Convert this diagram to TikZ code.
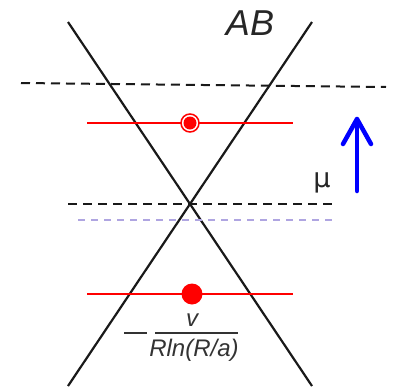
\documentclass[tikz,border=0pt]{standalone}
\usepackage{fontspec}
\setmainfont{Liberation Sans}
\newfontfamily\mufont{DejaVu Sans}
\usetikzlibrary{arrows.meta,calc}
\definecolor{lav}{RGB}{175,165,225}
\tikzset{
  cone/.style={line width=2.2pt, black!90},
  level/.style={line width=2pt, red},
  fermi/.style={line width=2pt, black!90, dash pattern=on 9pt off 6pt},
  lavdash/.style={line width=1.6pt, lav, dash pattern=on 7pt off 6pt},
  lbl/.style={inner sep=0pt, font=\itshape},
  bluearrow/.style={blue, line width=4.5pt, line cap=round, line join=round},
}
\begin{document}
\begin{tikzpicture}[x=1pt,y=-1pt]
\useasboundingbox (0,0) rectangle (394,386);
% cone lines
\coordinate (L1) at (68,22);
\coordinate (L2) at (312,386);
\coordinate (R1) at (312,22);
\coordinate (R2) at (68,386);
\draw[cone] (L1) -- (L2);
\draw[cone] (R1) -- (R2);
% dashed levels
\coordinate (D1a) at (21,83);
\coordinate (D1b) at (386,87);
\draw[fermi] (D1a) -- (D1b);
\coordinate (D2a) at (68,204);
\coordinate (D2b) at (333,204);
\draw[fermi] (D2a) -- (D2b);
\coordinate (D3a) at (78,220);
\coordinate (D3b) at (333,220);
\draw[lavdash] (D3a) -- (D3b);
% red levels
\coordinate (T1) at (87,123);
\coordinate (T2) at (293,123);
\draw[level] (T1) -- (T2);
\fill[white] (190,123) circle (9);
\draw[red, line width=1.5pt] (190,123) circle (9);
\fill[red] (190,123) circle (6.5);
\coordinate (B1) at (87,294);
\coordinate (B2) at (293,294);
\draw[level] (B1) -- (B2);
\fill[red] (192,294) circle (10.5);
% blue arrow
\coordinate (A1) at (357,191);
\coordinate (A2) at (357,119);
\draw[bluearrow] (A1) -- (A2);
\draw[bluearrow] ($(A2)+(-14,25)$) -- (A2) -- ($(A2)+(14,25)$);
% labels
\node[lbl, font=\fontsize{36}{36}\selectfont\itshape, text=black!85] (ab) at (250,23) {AB};
\node[inner sep=0pt, font=\mufont\fontsize{27}{27}\selectfont, text=black!85] (mu) at (322,183) {μ};
% fraction
\coordinate (M1) at (124,333);
\coordinate (M2) at (147,333);
\draw[line width=2.8pt, black!80] (M1) -- (M2);
\coordinate (F1) at (155,333);
\coordinate (F2) at (238,333);
\draw[line width=2.2pt, black!80] (F1) -- (F2);
\node[lbl, font=\fontsize{24}{24}\selectfont\itshape, text=black!80] (v) at (192,320) {v};
\node[lbl, font=\fontsize{24}{24}\selectfont\itshape, text=black!80] (den) at (194,350) {Rln(R/a)};
\end{tikzpicture}
\end{document}
